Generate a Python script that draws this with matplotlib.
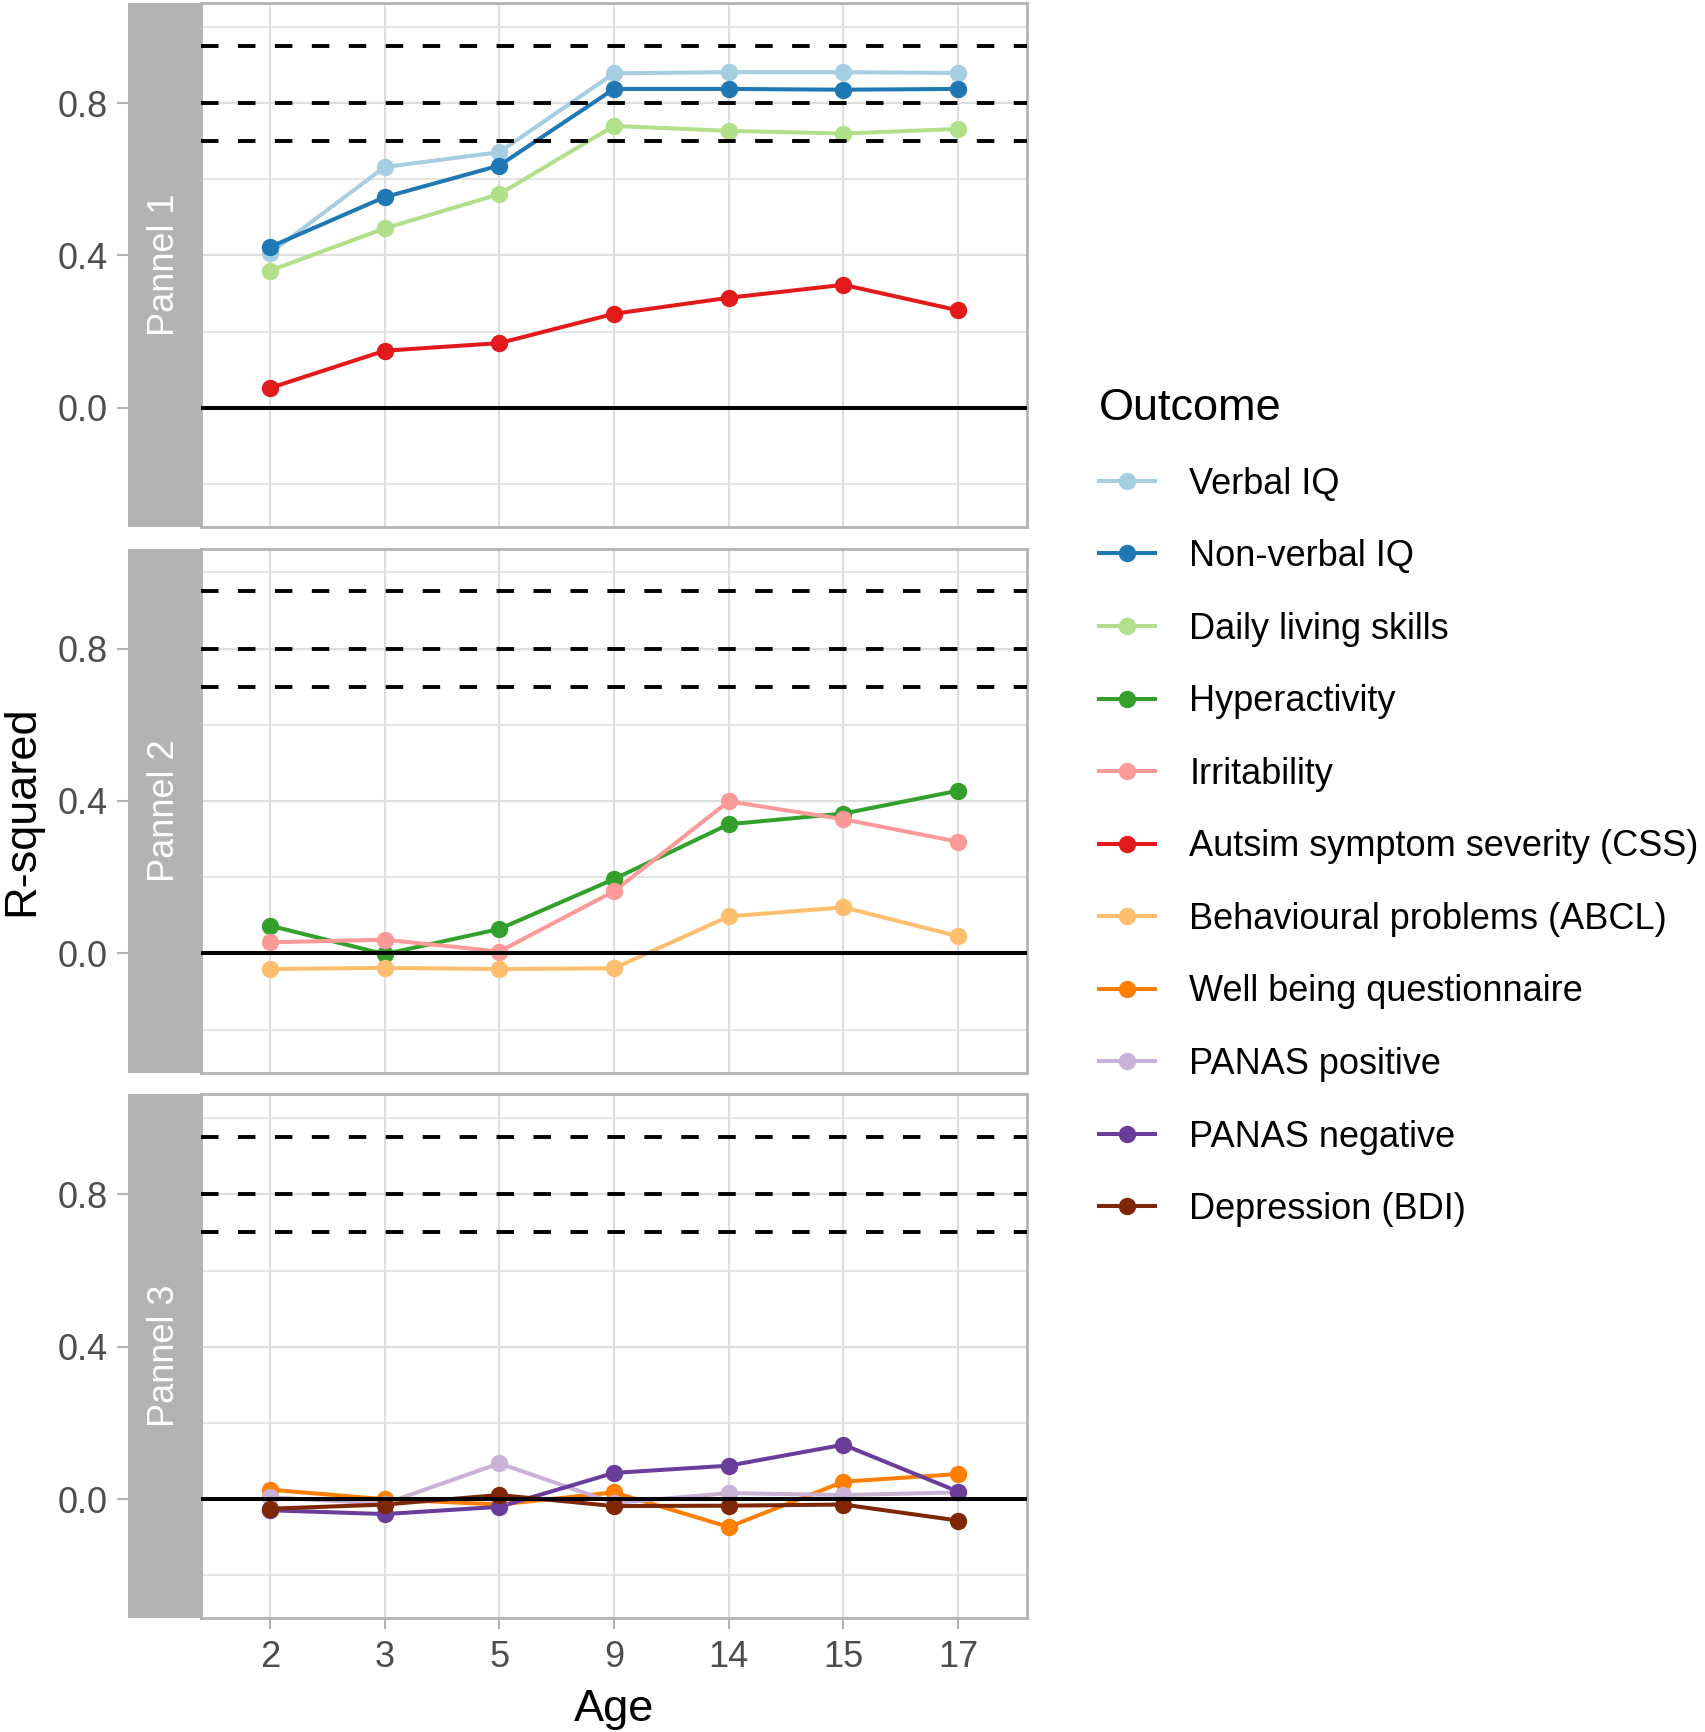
import matplotlib.pyplot as plt
from matplotlib.lines import Line2D

ages = ["2", "3", "5", "9", "14", "15", "17"]

outcomes = [
    "Verbal IQ",
    "Non-verbal IQ",
    "Daily living skills",
    "Hyperactivity",
    "Irritability",
    "Autsim symptom severity (CSS)",
    "Behavioural problems (ABCL)",
    "Well being questionnaire",
    "PANAS positive",
    "PANAS negative",
    "Depression (BDI)",
]
colors = [
    "#A6CEE3",
    "#1F78B4",
    "#B2DF8A",
    "#33A02C",
    "#FB9A99",
    "#E31A1C",
    "#FDBF6F",
    "#FF7F00",
    "#CAB2D6",
    "#6A3D9A",
    "#7F2704",
]
panel_of = [0, 0, 0, 1, 1, 0, 1, 2, 2, 2, 2]
panel_names = ["Pannel 1", "Pannel 2", "Pannel 3"]

verbal_iq = [0.406, 0.632, 0.671, 0.878, 0.881, 0.881, 0.879]
nonverbal_iq = [0.422, 0.553, 0.636, 0.837, 0.837, 0.835, 0.837]
daily_living = [0.360, 0.471, 0.561, 0.740, 0.727, 0.720, 0.732]
hyperactivity = [0.073, -0.002, 0.064, 0.195, 0.339, 0.367, 0.427]
irritability = [0.029, 0.036, 0.005, 0.163, 0.399, 0.352, 0.293]
css = [0.052, 0.150, 0.170, 0.247, 0.289, 0.323, 0.256]
abcl = [-0.041, -0.038, -0.041, -0.039, 0.097, 0.121, 0.045]
well_being = [0.025, 0.000, -0.014, 0.018, -0.073, 0.046, 0.066]
panas_pos = [0.005, -0.012, 0.094, -0.010, 0.016, 0.011, 0.018]
panas_neg = [-0.029, -0.039, -0.020, 0.069, 0.088, 0.143, 0.020]
depression = [-0.025, -0.014, 0.011, -0.018, -0.017, -0.014, -0.056]

series = [
    verbal_iq,
    nonverbal_iq,
    daily_living,
    hyperactivity,
    irritability,
    css,
    abcl,
    well_being,
    panas_pos,
    panas_neg,
    depression,
]

reference_lines = [0.95, 0.8, 0.7]

plt.rcParams["font.family"] = ["Liberation Sans", "DejaVu Sans"]

W, H = 1706, 1732
fig = plt.figure(figsize=(W / 100, H / 100), dpi=100)


def box(x0, y0, x1, y1):
    # pixel box (top-left origin) -> figure fraction rect
    return [x0 / W, 1 - y1 / H, (x1 - x0) / W, (y1 - y0) / H]


grey70 = "#B3B3B3"
grey87 = "#DEDEDE"
grey30 = "#4D4D4D"
ylim = (-0.3125, 1.0625)
panel_tops = [3, 548.5, 1094.3]
panel_h = 524

for p, top in enumerate(panel_tops):
    ax = fig.add_axes(box(201, top, 1027, top + panel_h))
    strip = fig.add_axes(box(128, top, 201, top + panel_h))

    for i, vals in enumerate(series):
        if panel_of[i] != p:
            continue
        ax.plot(ages, vals, color=colors[i], lw=2.9, zorder=2)
        ax.plot(ages, vals, "o", color=colors[i], ms=11.5, zorder=3)

    for y in reference_lines:
        ax.axhline(y, color="black", lw=2.8, ls=(0, (4.5, 5)), zorder=4)
    ax.axhline(0, color="black", lw=2.9, zorder=4)

    ax.set_xlim(-0.6, 6.6)
    ax.set_ylim(*ylim)
    ax.set_yticks([0, 0.4, 0.8])
    ax.set_yticks([-0.2, 0.2, 0.6, 1.0], minor=True)
    ax.grid(which="major", color=grey87, lw=1.5, zorder=0)
    ax.grid(which="minor", axis="y", color=grey87, lw=1.1, zorder=0)
    ax.set_axisbelow(True)
    ax.tick_params(axis="y", which="both", left=False, labelleft=False)
    for s in ax.spines.values():
        s.set_color(grey70)
        s.set_linewidth(2.0)
    if p < 2:
        ax.tick_params(axis="x", bottom=False, labelbottom=False)
    else:
        ax.tick_params(axis="x", length=7.9, width=1.5, color=grey70,
                       labelsize=26, labelcolor=grey30, pad=8)

    strip.set_facecolor(grey70)
    strip.set_ylim(*ylim)
    strip.set_xticks([])
    strip.set_yticks([0, 0.4, 0.8])
    strip.set_yticklabels(["0.0", "0.4", "0.8"])
    strip.tick_params(axis="y", length=7.9, width=1.5, color=grey70,
                      labelsize=26, labelcolor=grey30, pad=7)
    for s in strip.spines.values():
        s.set_visible(False)
    strip.text(0.5, 0.5, panel_names[p], rotation=90, color="white",
               fontsize=26, ha="center", va="center", transform=strip.transAxes)

fig.text(22 / W, 1 - 811 / H, "R-squared", rotation=90, ha="center",
         va="center", fontsize=32.5)
fig.text(614 / W, 1 - 1721 / H, "Age", ha="center", va="baseline",
         fontsize=32.5)

handles = [Line2D([], [], color=c, lw=2.9, marker="o", ms=11.5) for c in colors]
fig.legend(handles, outcomes, loc="upper left",
           bbox_to_anchor=(1099 / W, 1 - 388 / H), frameon=False,
           fontsize=26, title="Outcome", title_fontsize=32.5,
           alignment="left", handlelength=1.55, handletextpad=0.95,
           labelspacing=1.04, borderpad=0, borderaxespad=0)

fig.savefig("out.png", dpi=100)
